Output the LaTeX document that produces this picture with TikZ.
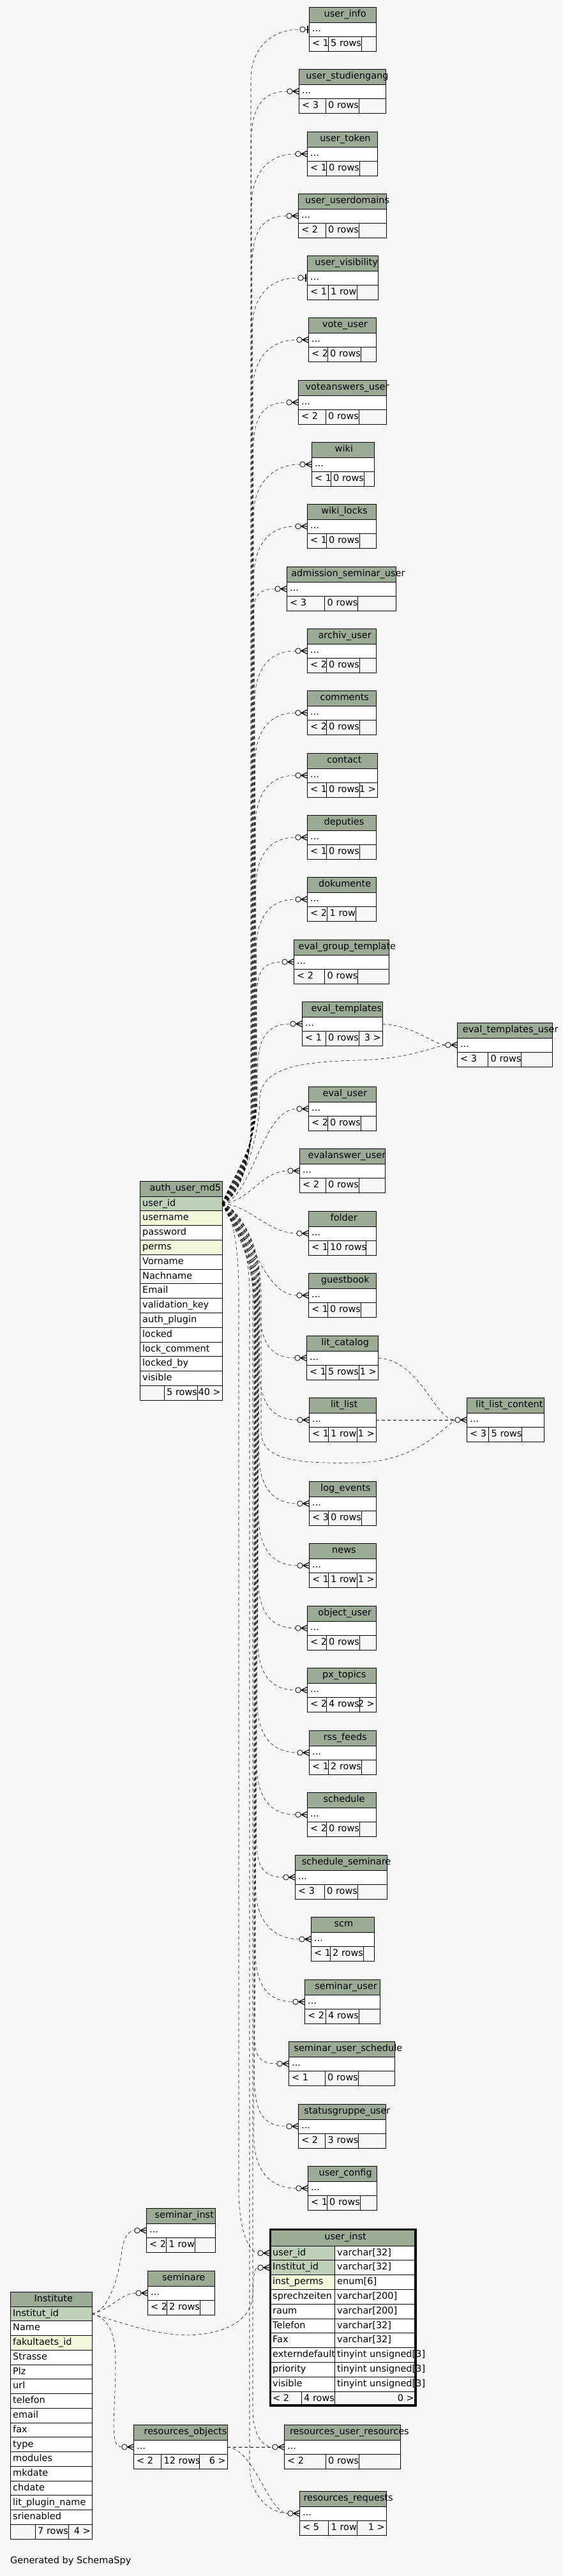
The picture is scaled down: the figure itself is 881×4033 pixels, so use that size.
\documentclass[tikz,border=0pt]{standalone}
\usepackage{fontspec}
\setmainfont{DejaVu Sans}
\usetikzlibrary{calc}
\newlength\tmplen
\definecolor{bgc}{HTML}{F7F7F7}
\definecolor{hdrc}{HTML}{9BAB96}
\definecolor{keyc}{HTML}{BED1B8}
\definecolor{idxc}{HTML}{F4F7DA}
\newcommand\tfont{\fontsize{14.5}{17}\selectfont}
\tikzset{
  fk/.style={draw=black,line width=0.55pt,dash pattern=on 5pt off 4pt},
  cell/.style={draw=black,line width=0.9pt},
  txt/.style={inner sep=0pt,font=\tfont,text height=10.5pt,text depth=3pt},
  mk/.style={draw=black,line width=0.8pt,fill=bgc},
  crowline/.style={draw=black,line width=1.2pt},
}
% title placed as graphviz does: slightly right of centre (text starts at cx - 0.44 w)
\newcommand\ttl[4]{% name, cx, y, text
  \node[txt,anchor=west] (#1) at (#2,#3) {\settowidth\tmplen{#4}\hspace*{-0.44\tmplen}#4};
}
% small table: id, x0, x1, top, title, left, mid, right, midwidth
\newcommand\stab[9]{%
  \pgfmathsetmacro\Tsw{#3-#2}%
  \pgfmathsetmacro\Tda{#2+max(30,(\Tsw-#9)/2)}%
  \pgfmathsetmacro\Tdb{\Tda+#9}%
  \pgfmathsetmacro\Tcx{(#2+#3)/2}%
  \filldraw[cell,fill=hdrc] (#2,#4) rectangle (#3,#4+24);
  \ttl{#1-title}{\Tcx}{#4+12}{#5}
  \filldraw[cell,fill=white] (#2,#4+24) rectangle (#3,#4+46);
  \node[txt,anchor=west] (#1-dots) at (#2+5,#4+35) {...};
  \draw[cell] (#2,#4+46) rectangle (#3,#4+69);
  \draw[cell] (\Tda,#4+46) -- (\Tda,#4+69) (\Tdb,#4+46) -- (\Tdb,#4+69);
  \node[txt,anchor=west] (#1-l) at (#2+5,#4+57.5) {#6};
  \node[txt,anchor=west] (#1-m) at (\Tda+4,#4+57.5) {#7};
  \node[txt,anchor=east] (#1-r) at (#3-2,#4+57.5) {#8};
  \coordinate (#1-in) at (#2,#4+35);
  \coordinate (#1-out) at (#3,#4+35);
}
\newcommand\crow[1]{%
  \draw[crowline] ($(#1)+(-9.5,0)$) -- ($(#1)+(0,-4.5)$) ($(#1)+(-9.5,0)$) -- (#1) ($(#1)+(-9.5,0)$) -- ($(#1)+(0,4.5)$);
  \draw[mk] ($(#1)+(-14,0)$) circle[radius=4.2pt];
}
\newcommand\onemk[1]{%
  \draw[line width=0.8pt] ($(#1)+(-6,0)$) -- (#1);
  \draw[line width=2.4pt] ($(#1)+(-2,-6)$) -- ($(#1)+(-2,6)$);
  \draw[mk] ($(#1)+(-10,0)$) circle[radius=4.2pt];
}
% id, lane, yt, i, endoff
\newcommand\uplink[5]{%
  \draw[fk] (auth-out) .. controls ($(auth-out)+(20,-4-3*#4)$) and (#2,1830-2*#4) .. (#2,1760-3*#4) -- (#2,#3+80) .. controls (#2,#3+30) and ($(#1-in)+(-60,0)$) .. ($(#1-in)+(-#5,0)$);
}
\newcommand\downlink[5]{%
  \draw[fk] (auth-out) .. controls ($(auth-out)+(20,4+3*#4)$) and (#2,1940+2*#4) .. (#2,2010+3*#4) -- (#2,#3-80) .. controls (#2,#3-30) and ($(#1-in)+(-60,0)$) .. ($(#1-in)+(-#5,0)$);
}
\begin{document}
\begin{tikzpicture}[x=1pt,y=-1pt]
\useasboundingbox (0,0) rectangle (881,4033);
\fill[bgc] (0,0) rectangle (881,4033);

% ---------- small tables ----------
\stab{uinfo}{484}{589}{11}{user\_info}{< 1}{5 rows}{}{52}
\stab{ustud}{468}{604}{108}{user\_studiengang}{< 3}{0 rows}{}{52}
\stab{utok}{481}{591}{206}{user\_token}{< 1}{0 rows}{}{52}
\stab{udom}{467}{605}{303}{user\_userdomains}{< 2}{0 rows}{}{52}
\stab{uvis}{481}{592}{400}{user\_visibility}{< 1}{1 row}{}{45}
\stab{vote}{483}{589}{497}{vote\_user}{< 2}{0 rows}{}{52}
\stab{vans}{467}{605}{595}{voteanswers\_user}{< 2}{0 rows}{}{52}
\stab{wiki}{488}{586}{692}{wiki}{< 1}{0 rows}{}{52}
\stab{wlock}{481}{589}{789}{wiki\_locks}{< 1}{0 rows}{}{52}
\stab{adm}{449}{620}{887}{admission\_seminar\_user}{< 3}{0 rows}{}{52}
\stab{arch}{481}{589}{984}{archiv\_user}{< 2}{0 rows}{}{52}
\stab{comm}{481}{589}{1081}{comments}{< 2}{0 rows}{}{52}
\stab{cont}{481}{591}{1179}{contact}{< 1}{0 rows}{1 >}{52}
\stab{dep}{481}{589}{1276}{deputies}{< 1}{0 rows}{}{52}
\stab{dok}{481}{589}{1373}{dokumente}{< 2}{1 row}{}{45}
\stab{egt}{460}{609}{1471}{eval\_group\_template}{< 2}{0 rows}{}{52}
\stab{etpl}{473}{599}{1568}{eval\_templates}{< 1}{0 rows}{3 >}{52}
\stab{etu}{716}{865}{1601}{eval\_templates\_user}{< 3}{0 rows}{}{52}
\stab{euser}{483}{589}{1701}{eval\_user}{< 2}{0 rows}{}{52}
\stab{eans}{469}{603}{1798}{evalanswer\_user}{< 2}{0 rows}{}{52}
\stab{fold}{483}{589}{1896}{folder}{< 1}{10 rows}{}{60}
\stab{gb}{483}{589}{1993}{guestbook}{< 1}{0 rows}{}{52}
\stab{litc}{480}{592}{2091}{lit\_catalog}{< 1}{5 rows}{1 >}{52}
\stab{litl}{484}{589}{2188}{lit\_list}{< 1}{1 row}{1 >}{45}
\stab{litlc}{731}{852}{2188}{lit\_list\_content}{< 3}{5 rows}{}{52}
\stab{logev}{484}{589}{2319}{log\_events}{< 3}{0 rows}{}{52}
\stab{news}{484}{589}{2416}{news}{< 1}{1 row}{1 >}{45}
\stab{obj}{481}{589}{2514}{object\_user}{< 2}{0 rows}{}{52}
\stab{px}{481}{589}{2611}{px\_topics}{< 2}{4 rows}{2 >}{52}
\stab{rss}{484}{589}{2709}{rss\_feeds}{< 1}{2 rows}{}{52}
\stab{sched}{481}{589}{2806}{schedule}{< 2}{0 rows}{}{52}
\stab{schsem}{462}{606}{2904}{schedule\_seminare}{< 3}{0 rows}{}{52}
\stab{scm}{487}{586}{3001}{scm}{< 1}{2 rows}{}{52}
\stab{semu}{477}{595}{3099}{seminar\_user}{< 2}{4 rows}{}{52}
\stab{semus}{452}{618}{3196}{seminar\_user\_schedule}{< 1}{0 rows}{}{52}
\stab{stat}{467}{604}{3294}{statusgruppe\_user}{< 2}{3 rows}{}{52}
\stab{ucfg}{482}{590}{3391}{user\_config}{< 1}{0 rows}{}{52}
\stab{seminst}{229}{337}{3457}{seminar\_inst}{< 2}{1 row}{}{45}
\stab{sem}{231}{336}{3555}{seminare}{< 2}{2 rows}{}{52}
\stab{resobj}{209}{356}{3796}{resources\_objects}{< 2}{12 rows}{6 >}{60}
\stab{resur}{445}{627}{3796}{resources\_user\_resources}{< 2}{0 rows}{}{52}
\stab{resreq}{469}{605}{3900}{resources\_requests}{< 5}{1 row}{1 >}{45}

% ---------- auth_user_md5 ----------
\filldraw[cell,fill=hdrc] (219,1849) rectangle (348,1873);
\ttl{auth-title}{283.5}{1861}{auth\_user\_md5}
\foreach \nm/\fc [count=\k from 0] in {user\_id/keyc,username/idxc,password/white,perms/idxc,Vorname/white,Nachname/white,Email/white,validation\_key/white,auth\_plugin/white,locked/white,lock\_comment/white,locked\_by/white,visible/white}{
  \filldraw[cell,fill=\fc] (219,1873+22.8*\k) rectangle (348,1895.8+22.8*\k);
  \node[txt,anchor=west] (auth-f\k) at (223,1884.4+22.8*\k) {\nm};
}
\draw[cell] (219,2169.4) rectangle (348,2192.2);
\draw[cell] (257,2169.4) -- (257,2192.2) (309,2169.4) -- (309,2192.2);
\node[txt,anchor=west] (auth-m) at (261,2180.8) {5 rows};
\node[txt,anchor=east] (auth-r) at (346,2180.8) {40 >};
\coordinate (auth-out) at (348,1884.4);

% ---------- Institute ----------
\filldraw[cell,fill=hdrc] (16,3588) rectangle (144,3611);
\ttl{inst-title}{80}{3599.5}{Institute}
\foreach \nm/\fc [count=\k from 0] in {Institut\_id/keyc,Name/white,fakultaets\_id/idxc,Strasse/white,Plz/white,url/white,telefon/white,email/white,fax/white,type/white,modules/white,mkdate/white,chdate/white,lit\_plugin\_name/white,srienabled/white}{
  \filldraw[cell,fill=\fc] (16,3611+22.76*\k) rectangle (144,3633.76+22.76*\k);
  \node[txt,anchor=west] (inst-f\k) at (20,3622.38+22.76*\k) {\nm};
}
\draw[cell] (16,3952.4) rectangle (144,3975.2);
\draw[cell] (55,3952.4) -- (55,3975.2) (107,3952.4) -- (107,3975.2);
\node[txt,anchor=west] (inst-m) at (59,3963.8) {7 rows};
\node[txt,anchor=east] (inst-r) at (142,3963.8) {4 >};
\coordinate (inst-out) at (144,3622.4);

% ---------- user_inst ----------
\filldraw[cell,fill=hdrc] (422,3489) rectangle (652,3516);
\ttl{ui-title}{537}{3503}{user\_inst}
\foreach \nm/\fc/\ty [count=\k from 0] in {user\_id/keyc/varchar[32],Institut\_id/keyc/varchar[32],inst\_perms/idxc/enum[6],sprechzeiten/white/varchar[200],raum/white/varchar[200],Telefon/white/varchar[32],Fax/white/varchar[32],externdefault/white/tinyint unsigned[3],priority/white/tinyint unsigned[3],visible/white/tinyint unsigned[3]}{
  \filldraw[cell,fill=\fc] (422,3516+22.8*\k) rectangle (524,3538.8+22.8*\k);
  \filldraw[cell,fill=white] (524,3516+22.8*\k) rectangle (652,3538.8+22.8*\k);
  \node[txt,anchor=west] (ui-f\k) at (427,3527.4+22.8*\k) {\nm};
  \node[txt,anchor=west] (ui-t\k) at (528,3527.4+22.8*\k) {\ty};
}
\draw[cell] (422,3744) rectangle (652,3767);
\draw[cell] (472,3744) -- (472,3767) (524,3744) -- (524,3767);
\node[txt,anchor=west] (ui-l) at (427,3755.5) {< 2};
\node[txt,anchor=west] (ui-m) at (476,3755.5) {4 rows};
\node[txt,anchor=east] (ui-r) at (649,3755.5) {0 >};
\draw[line width=3pt] (423.5,3490.5) rectangle (650.5,3765.5);
\coordinate (uiuid-in) at (422,3527.4);
\coordinate (uiiid-in) at (422,3550.2);

% ---------- connectors from auth_user_md5 (upwards) ----------
\uplink{uinfo}{393}{46}{0}{14}
\uplink{ustud}{393.6}{143}{1}{18}
\uplink{utok}{394.2}{241}{2}{18}
\uplink{udom}{394.8}{338}{3}{18}
\uplink{uvis}{395.4}{435}{4}{14}
\uplink{vote}{396}{532}{5}{18}
\uplink{vans}{396.6}{630}{6}{18}
\uplink{wiki}{397.2}{727}{7}{18}
\uplink{wlock}{397.8}{824}{8}{18}
\uplink{adm}{398.4}{922}{9}{18}
\uplink{arch}{399}{1019}{10}{18}
\uplink{comm}{399.6}{1116}{11}{18}
\uplink{cont}{400.2}{1214}{12}{18}
\uplink{dep}{400.8}{1311}{13}{18}
\uplink{dok}{401.4}{1408}{14}{18}
\uplink{egt}{402}{1506}{15}{18}
\uplink{etpl}{403}{1603}{16}{18}
\draw[fk] (auth-out) .. controls (375,1870) and (406,1790) .. (407,1720) .. controls (408,1672) and (470,1662) .. (560,1660) .. controls (640,1658) and (675,1640) .. ($(etu-in)+(-18,0)$);
\draw[fk] (auth-out) .. controls (395,1878) and (410,1736) .. ($(euser-in)+(-18,0)$);
\draw[fk] (auth-out) .. controls (390,1882) and (410,1833) .. ($(eans-in)+(-18,0)$);
\draw[fk] (auth-out) .. controls (390,1886) and (420,1931) .. ($(fold-in)+(-18,0)$);
\draw[fk] (auth-out) .. controls (385,1890) and (405,2028) .. ($(gb-in)+(-18,0)$);

% ---------- connectors from auth_user_md5 (downwards) ----------
\downlink{litc}{407}{2126}{0}{18}
\downlink{litl}{406.3}{2223}{1}{18}
\downlink{logev}{405.6}{2354}{2}{18}
\downlink{news}{404.9}{2451}{3}{18}
\downlink{obj}{404.2}{2549}{4}{18}
\downlink{px}{403.5}{2646}{5}{18}
\downlink{rss}{402.8}{2744}{6}{18}
\downlink{sched}{402.1}{2841}{7}{18}
\downlink{schsem}{401.4}{2939}{8}{18}
\downlink{scm}{400.7}{3036}{9}{18}
\downlink{semu}{400}{3134}{10}{18}
\downlink{semus}{399.3}{3231}{11}{18}
\downlink{stat}{398.6}{3329}{12}{18}
\downlink{ucfg}{397.9}{3426}{13}{18}
\draw[fk] (auth-out) .. controls ($(auth-out)+(22,6)$) and (409,1944) .. (409,2024) -- (409,2240) .. controls (409,2285) and (460,2292) .. (560,2290) .. controls (650,2288) and (690,2240) .. ($(litlc-in)+(-18,0)$);
\draw[fk] (auth-out) .. controls (362,1895) and (374,1944) .. (374,2024) -- (374,3430) .. controls (374,3490) and (390,3527) .. ($(uiuid-in)+(-18,0)$);
\draw[fk] (auth-out) .. controls (365,1900) and (396,1944) .. (396,2024) -- (396,3770) .. controls (396,3810) and (410,3831) .. ($(resur-in)+(-18,0)$);
\draw[fk] (auth-out) .. controls (365,1902) and (391,1944) .. (391,2024) -- (391,3860) .. controls (391,3910) and (425,3935) .. ($(resreq-in)+(-18,0)$);

% ---------- other connectors ----------
\draw[fk] (etpl-out) .. controls (650,1606) and (680,1636) .. ($(etu-in)+(-18,0)$);
\draw[fk] (litc-out) .. controls (660,2130) and (680,2223) .. ($(litlc-in)+(-18,0)$);
\draw[fk] (litl-out) -- ($(litlc-in)+(-18,0)$);
\draw[fk] (inst-out) .. controls (172,3618) and (186,3560) .. (190,3530) .. controls (193,3505) and (200,3492) .. ($(seminst-in)+(-18,0)$);
\draw[fk] (inst-out) .. controls (175,3615) and (190,3590) .. ($(sem-in)+(-18,0)$);
\draw[fk] (inst-out) .. controls (200,3640) and (260,3660) .. (310,3655) .. controls (360,3650) and (395,3630) .. (396,3590) .. controls (397,3565) and (398,3550) .. ($(uiiid-in)+(-18,0)$);
\draw[fk] (inst-out) .. controls (172,3630) and (181,3655) .. (181,3700) .. controls (181,3780) and (170,3831) .. ($(resobj-in)+(-18,0)$);
\draw[fk] (resobj-out) -- ($(resur-in)+(-18,0)$);
\draw[fk] (resobj-out) .. controls (400,3835) and (420,3935) .. ($(resreq-in)+(-18,0)$);

% ---------- markers ----------
\onemk{uinfo-in}
\onemk{uvis-in}
\foreach \t in {ustud,utok,udom,vote,vans,wiki,wlock,adm,arch,comm,cont,dep,dok,egt,etpl,etu,euser,eans,fold,gb,litc,litl,litlc,logev,news,obj,px,rss,sched,schsem,scm,semu,semus,stat,ucfg,seminst,sem,resobj,resur,resreq,uiuid,uiiid}{\crow{\t-in}}

\node[txt,anchor=base west] (gen) at (16,4013) {Generated by SchemaSpy};
\end{tikzpicture}
\end{document}
